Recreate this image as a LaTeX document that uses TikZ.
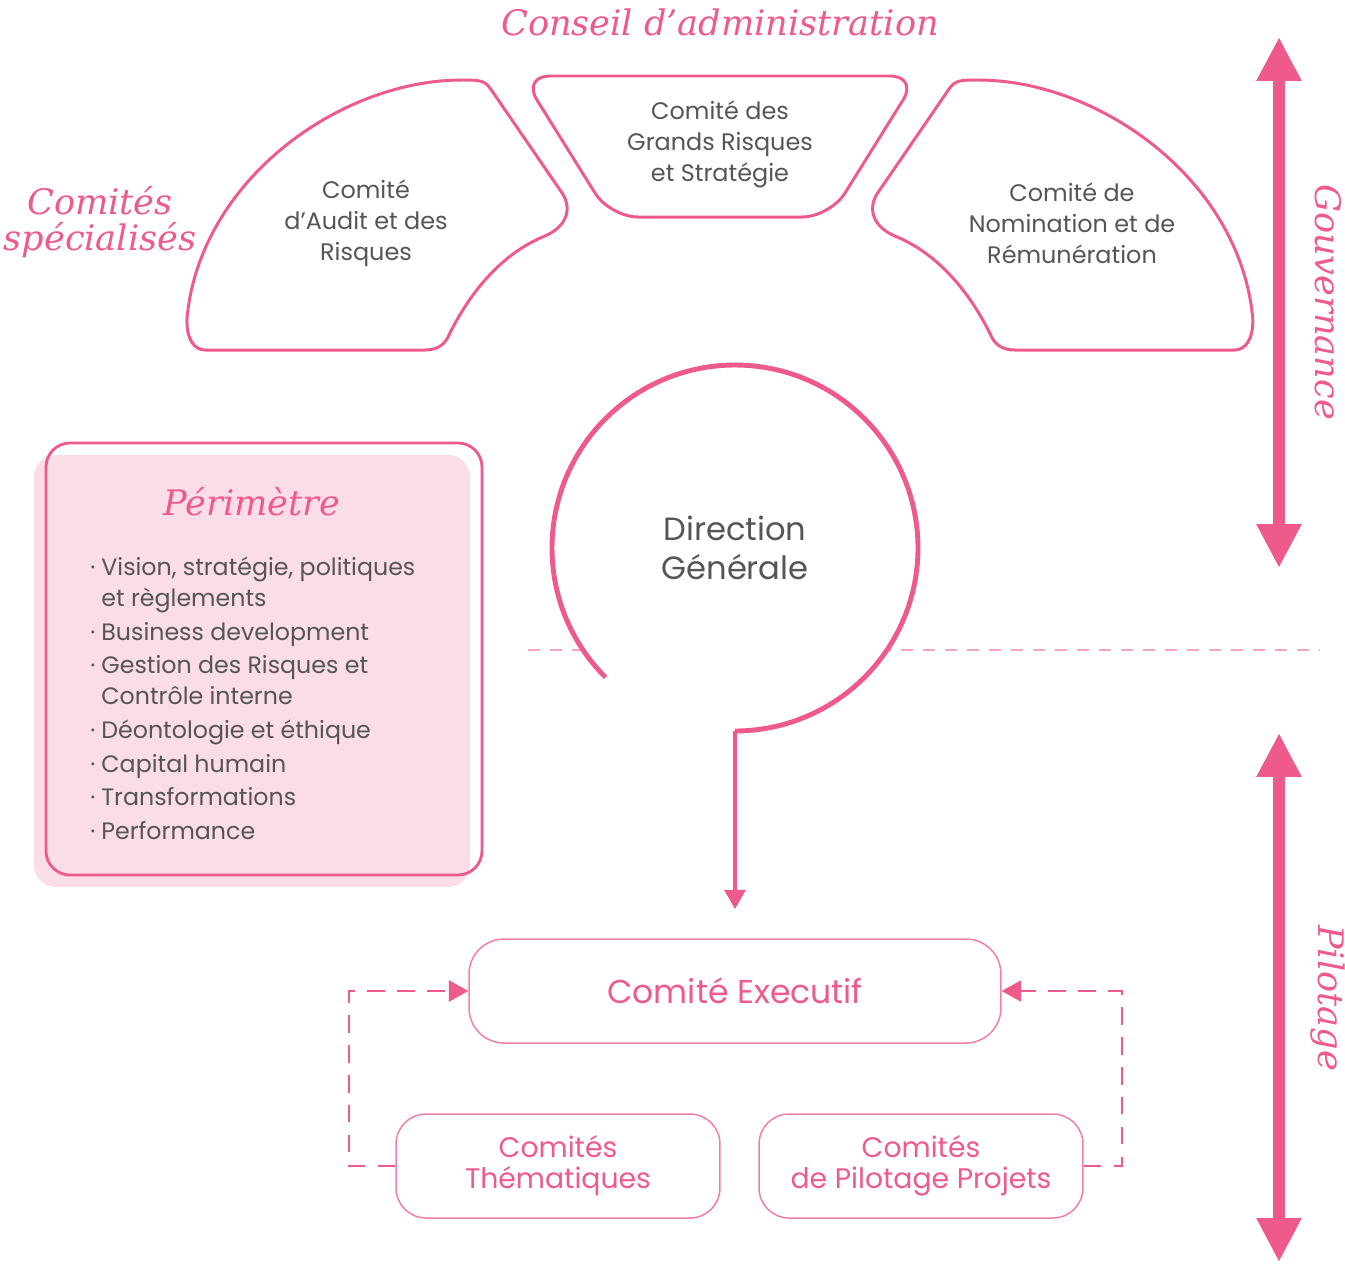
\documentclass[tikz,border=0pt]{standalone}
\usepackage{fontspec}
\setmainfont{Poppins}
\newfontfamily\titlefont{DejaVu Serif}
\usetikzlibrary{arrows.meta}

\definecolor{rose}{HTML}{EE5A8A}
\definecolor{roselight}{HTML}{F07FA5}
\definecolor{rosedash}{HTML}{F3A6C0}
\definecolor{rosefill}{HTML}{FADDE6}
\definecolor{txtgray}{HTML}{555555}

\newcommand{\puce}{\makebox[6.3pt][l]{·}}

\begin{document}
\begin{tikzpicture}[x = 0.02cm, y = -0.02cm,
  lobe/.style = {draw = rose, line width = 1.7pt},
  comtext/.style = {text = txtgray, align = center, font = \fontsize{13.6}{17.6}\selectfont},
  title/.style = {text = rose, align = center, font = \titlefont\itshape\fontsize{20}{20.5}\selectfont},
  exbox/.style = {draw = roselight, line width = 0.85pt, text = rose, align = center, minimum height = 2.08cm},
  dashlink/.style = {draw = rose, line width = 1.1pt, dash pattern = on 10pt off 7pt, -{Triangle[length = 11pt, width = 12pt]}},
  bigarrow/.style = {draw = rose, line width = 6.8pt, {Triangle[length = 25pt, width = 24pt]}-{Triangle[length = 25pt, width = 24pt]}},
  item/.style = {text = txtgray, anchor = base west, inner sep = 0pt, font = \fontsize{13.5}{17.6}\selectfont}]
\useasboundingbox (0, 0) rectangle (1345, 1265);

% titles
\node[title] (conseil) at (720, 22) {Conseil d’administration};
\node[title] (spec) at (100, 222) {Comités\\spécialisés};

% the three committees
\draw[lobe] (205, 350) -- (425, 350) .. controls (440, 350) and (446, 342) .. (449, 335)
  .. controls (472, 288) and (505, 252) .. (545, 236)
  .. controls (570, 225) and (572, 205) .. (560, 190) -- (490, 88)
  .. controls (484, 80) and (478, 80) .. (462, 80)
  .. controls (340, 80) and (200, 180) .. (187, 318)
  .. controls (186, 340) and (195, 350) .. (205, 350) -- cycle;
\begin{scope}[xshift = 28.8cm, xscale = -1]
\draw[lobe] (205, 350) -- (425, 350) .. controls (440, 350) and (446, 342) .. (449, 335)
  .. controls (472, 288) and (505, 252) .. (545, 236)
  .. controls (570, 225) and (572, 205) .. (560, 190) -- (490, 88)
  .. controls (484, 80) and (478, 80) .. (462, 80)
  .. controls (340, 80) and (200, 180) .. (187, 318)
  .. controls (186, 340) and (195, 350) .. (205, 350) -- cycle;
\end{scope}
\draw[lobe, rounded corners = 0.56cm] (720, 76) -- (918, 76) -- (830, 217) -- (610, 217) -- (522, 76) -- cycle;
\node[comtext] (audit) at (366, 223) {Comité\\d’Audit et des\\Risques};
\node[comtext] (risks) at (720, 144) {Comité des\\Grands Risques\\et Stratégie};
\node[comtext] (nomin) at (1072, 223) {Comité de\\Nomination et de\\Rémunération};

% perimetre
\fill[rosefill, rounded corners = 0.44cm] (34, 455) rectangle (470, 887);
\draw[rose, line width = 1.6pt, rounded corners = 0.48cm] (46, 443) rectangle (482, 875);
\node[title] (perim) at (252, 502) {Périmètre};
\node[item] (it1) at (90, 575) {\puce Vision, stratégie, politiques};
\node[item] (it1b) at (90, 606) {\hspace*{6.3pt}et règlements};
\node[item] (it2) at (90, 640) {\puce Business development};
\node[item] (it3) at (90, 673) {\puce Gestion des Risques et};
\node[item] (it3b) at (90, 704) {\hspace*{6.3pt}Contrôle interne};
\node[item] (it4) at (90, 738) {\puce Déontologie et éthique};
\node[item] (it5) at (90, 772) {\puce Capital humain};
\node[item] (it6) at (90, 805) {\puce Transformations};
\node[item] (it7) at (90, 839) {\puce Performance};

% direction generale
\draw[rosedash, line width = 0.8pt, dash pattern = on 6.8pt off 5.7pt] (528, 650) -- (1320, 650);
\fill[white] (735, 548) circle [radius = 183];
\draw[rose, line width = 2.8pt] (605.6, 677.4) arc [start angle = 135, end angle = 450, radius = 183];
\node[comtext, font = \fontsize{18.3}{22}\selectfont] (dg) at (735, 548) {Direction\\Générale};
\coordinate (dgbot) at (735, 731);

% pilotage
\node[exbox, minimum width = 10.64cm, rounded corners = 0.7cm, font = \fontsize{18.8}{22}\selectfont] (comex) at (735, 991) {Comité Executif};
\node[exbox, minimum width = 6.48cm, rounded corners = 0.6cm, font = \fontsize{16.1}{17.6}\selectfont] (them) at (558, 1166) {Comités\\Thématiques};
\node[exbox, minimum width = 6.48cm, rounded corners = 0.6cm, font = \fontsize{16.1}{17.6}\selectfont] (pilot) at (921, 1166) {Comités\\de Pilotage Projets};
\draw[rose, line width = 2.8pt, shorten >= 0.58cm, -{Triangle[length = 11pt, width = 11.5pt]}] (dgbot) -- (comex.north);
\draw[dashlink] (them.west) -- ++(-46, 0) |- (comex.west);
\draw[dashlink] (pilot.east) -- ++(38, 0) |- (comex.east);

% side arrows
\coordinate (govtop) at (1279, 37);
\coordinate (govbot) at (1279, 568);
\coordinate (pilotop) at (1279, 733);
\coordinate (pilobot) at (1279, 1262);
\draw[bigarrow] (govtop) -- (govbot);
\draw[bigarrow] (pilotop) -- (pilobot);
\node[title, rotate = -90] (gov) at (1328, 302) {Gouvernance};
\node[title, rotate = -90] (pil) at (1328, 998) {Pilotage};
\end{tikzpicture}
\end{document}
